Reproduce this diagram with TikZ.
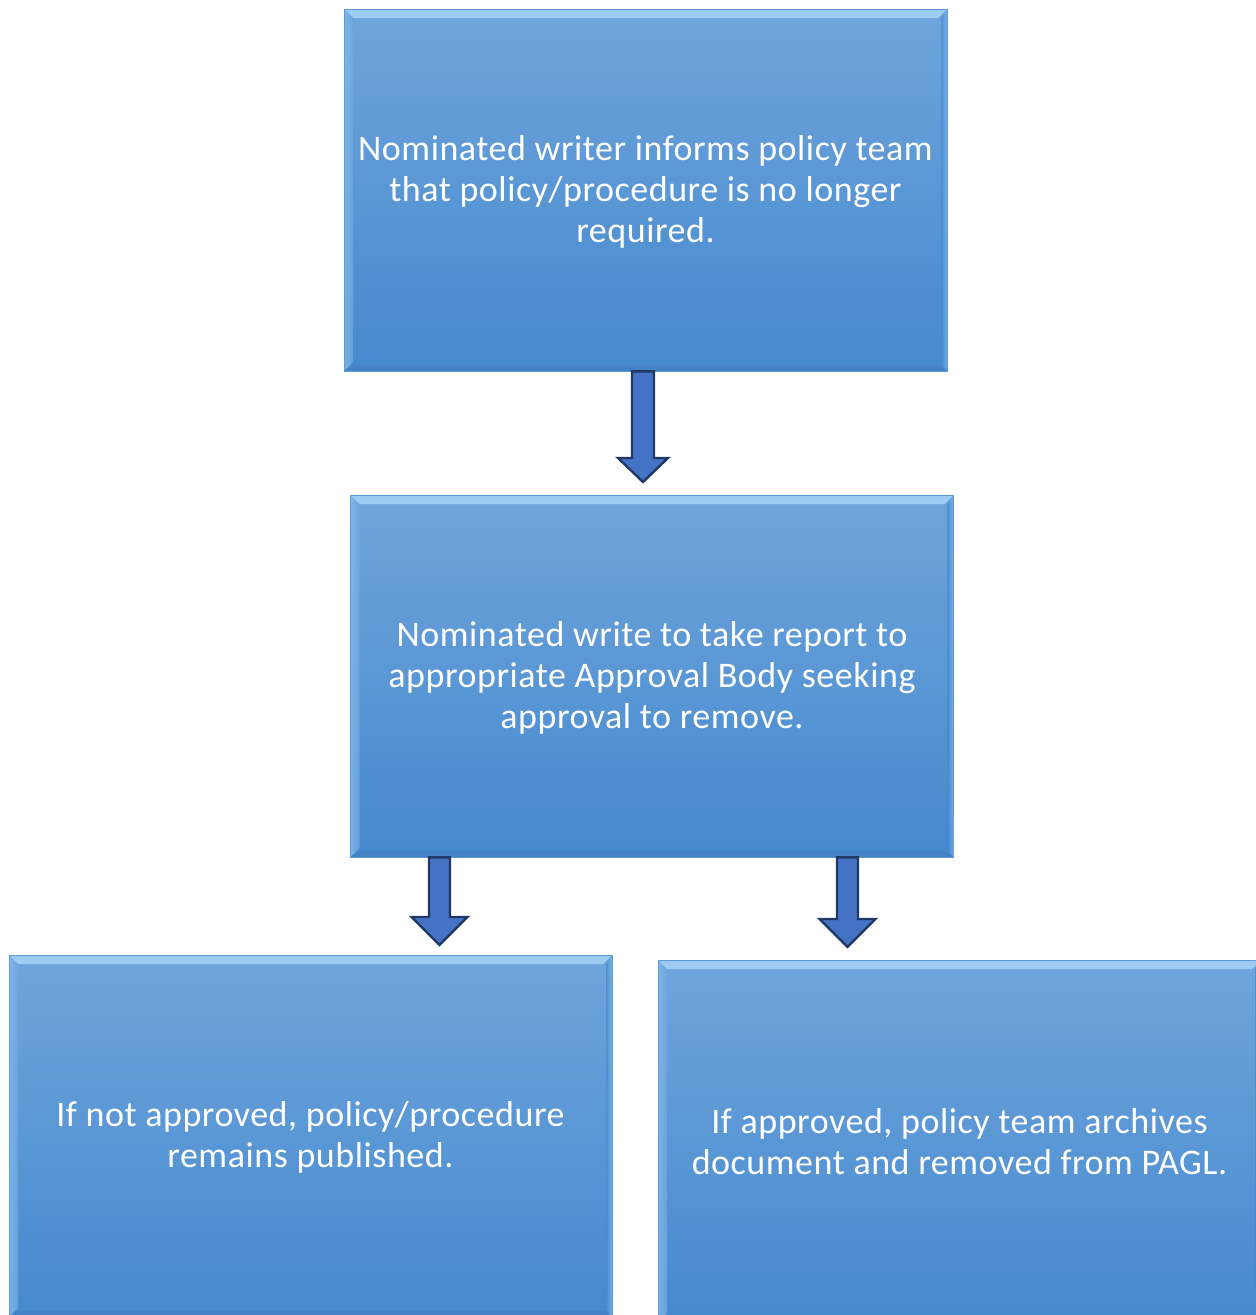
\documentclass[tikz,border=0pt]{standalone}
\usepackage{fontspec}
\setmainfont{Carlito}[LetterSpace=1.5]
\usetikzlibrary{calc}
\definecolor{boxtop}{HTML}{6FA5DC}
\definecolor{boxbot}{HTML}{4589CE}
\definecolor{boxedge}{HTML}{5E9AD6}
\definecolor{bevhi}{HTML}{D6F3FF}
\definecolor{bevmid}{HTML}{9CCBF2}
\definecolor{bevleft}{HTML}{86BAEB}
\definecolor{arrfill}{HTML}{4472C4}
\definecolor{arredge}{HTML}{1F3864}
\tikzset{
  flowbox/.style={rectangle, inner sep=0pt, minimum width=603pt, minimum height=362pt,
    top color=boxtop, bottom color=boxbot, draw=boxedge, line width=0.8pt,
    text=white, font=\fontsize{36}{41}\selectfont, align=center,
    path picture={
      \shade[top color=bevmid, bottom color=boxtop, middle color=bevhi]
        (path picture bounding box.north west) -- (path picture bounding box.north east)
        -- ([xshift=-9pt,yshift=-9pt]path picture bounding box.north east)
        -- ([xshift=9pt,yshift=-9pt]path picture bounding box.north west) -- cycle;
      \shade[left color=bevleft, right color=boxtop, fill opacity=0.8]
        (path picture bounding box.north west)
        -- ([xshift=9pt,yshift=-9pt]path picture bounding box.north west)
        -- ([xshift=9pt,yshift=9pt]path picture bounding box.south west)
        -- (path picture bounding box.south west) -- cycle;
      \shade[left color=boxbot, right color=bevleft, fill opacity=0.7]
        (path picture bounding box.north east)
        -- ([xshift=-6pt,yshift=-9pt]path picture bounding box.north east)
        -- ([xshift=-6pt,yshift=6pt]path picture bounding box.south east)
        -- (path picture bounding box.south east) -- cycle;
      \fill[boxbot!85!black, fill opacity=0.25]
        (path picture bounding box.south west)
        -- ([xshift=9pt,yshift=6pt]path picture bounding box.south west)
        -- ([xshift=-6pt,yshift=6pt]path picture bounding box.south east)
        -- (path picture bounding box.south east) -- cycle;
    }},
  boxtext/.style={text=white, font=\fontsize{36}{41}\selectfont, align=center, inner sep=0pt},
  blockarrow/.style={fill=arrfill, draw=arredge, line width=2.4pt, line join=miter}
}
% #1 start, #2 tip, #3 shaft half width, #4 head half width, #5 head length
\newcommand\flowarrow[5]{%
  \draw[blockarrow] ($(#1)+(-#3,0)$) -- ($(#2)+(-#3,-#5)$) -- ($(#2)+(-#4,-#5)$) -- (#2)
    -- ($(#2)+(#4,-#5)$) -- ($(#2)+(#3,-#5)$) -- ($(#1)+(#3,0)$) -- cycle;}
\begin{document}
\begin{tikzpicture}[x=1pt,y=-1pt]
\useasboundingbox (0,0) rectangle (1256,1315);
\clip (0,0) rectangle (1256,1315);
\node[flowbox] (b1) at (645.5,190) {};
\node[flowbox] (b2) at (652,676) {};
\node[flowbox] (b3) at (310.5,1136) {};
\node[flowbox] (b4) at (959.5,1141) {};
\node[boxtext] (l1) at ([yshift=-2pt]b1.center) {Nominated writer informs policy team\\that policy/procedure is no longer\\required.};
\node[boxtext] (l2) at ([yshift=-2pt]b2.center) {Nominated write to take report to\\appropriate Approval Body seeking\\approval to remove.};
\node[boxtext] (l3) at ([yshift=-1pt]b3.center) {If not approved, policy/procedure\\remains published.};
\node[boxtext] (l4) at ([yshift=-1pt]b4.center) {If approved, policy team archives\\document and removed from PAGL.};
\coordinate (t1) at (643,482);
\coordinate (t2) at (439.5,945);
\coordinate (t3) at (847.5,947);
\coordinate (s1) at (b1.south -| t1);
\coordinate (s2) at (b2.south -| t2);
\coordinate (s3) at (b2.south -| t3);
\flowarrow{s1}{t1}{11}{25}{24}
\flowarrow{s2}{t2}{10.5}{28}{28}
\flowarrow{s3}{t3}{10.5}{28}{28}
\end{tikzpicture}
\end{document}
